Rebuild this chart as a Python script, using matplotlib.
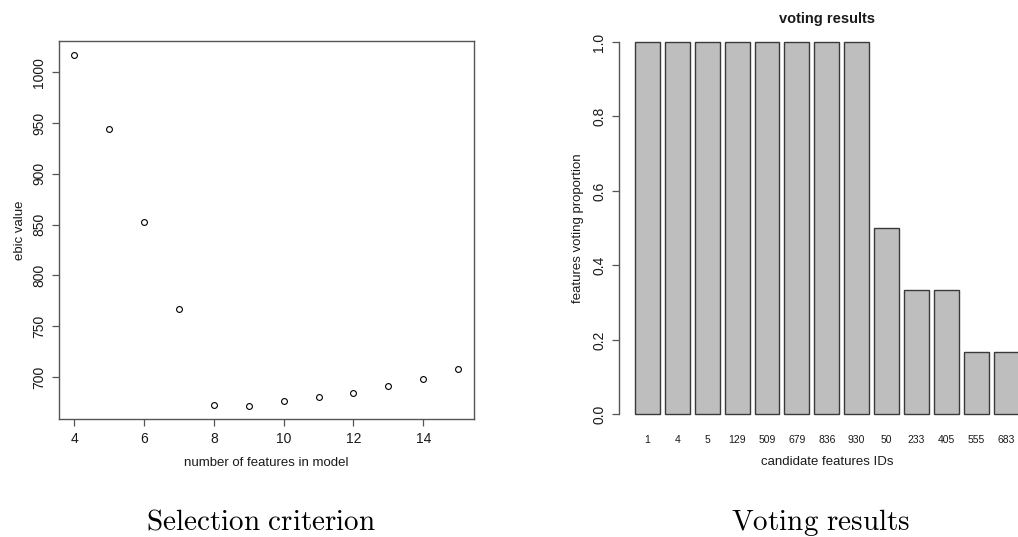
import matplotlib
matplotlib.use("Agg")
import matplotlib.pyplot as plt

plt.rcParams["font.family"] = ["Liberation Sans", "DejaVu Sans"]
plt.rcParams["mathtext.fontset"] = "cm"

# ebic value for each model size
n_features = [4, 5, 6, 7, 8, 9, 10, 11, 12, 13, 14, 15]
ebic = [1016.5, 944, 852.5, 767, 673, 672, 676.5, 680, 684.5, 691, 698.5, 707.5]

# voting proportion of the candidate features
feature_ids = ["1", "4", "5", "129", "509", "679", "836", "930", "50", "233", "405", "555", "683"]
vote_prop = [1.0, 1.0, 1.0, 1.0, 1.0, 1.0, 1.0, 1.0, 0.5, 0.333, 0.333, 0.167, 0.167]

W, H = 1018, 537
fig = plt.figure(figsize=(W / 100, H / 100), dpi=100)


def px_axes(left, top, right, bottom):
    return fig.add_axes([left / W, 1 - bottom / H, (right - left) / W, (bottom - top) / H])


line_col = "#555555"
txt_col = "#1a1a1a"

# left panel: ebic vs model size
ax1 = px_axes(59, 41, 473.5, 419.3)
ax1.plot(n_features, ebic, "o", mfc="none", mec="black", ms=4.2, mew=0.8)
ax1.set_xlim(3.56, 15.44)
ax1.set_ylim(658.5, 1030.6)
ax1.set_xticks([4, 6, 8, 10, 12, 14])
ax1.set_yticks([700, 750, 800, 850, 900, 950, 1000])
for s in ax1.spines.values():
    s.set_color(line_col)
    s.set_linewidth(1.0)
ax1.tick_params(direction="out", length=5, width=0.9, color=line_col,
                labelsize=10, labelcolor=txt_col)
ax1.tick_params(axis="x", pad=4)
ax1.tick_params(axis="y", pad=4)
for lab in ax1.get_yticklabels():
    lab.set_rotation(90)
    lab.set_va("center")
ax1.set_xlabel("number of features in model", fontsize=9.5, color=txt_col, labelpad=8)
ax1.set_ylabel("ebic value", fontsize=9.5, color=txt_col, labelpad=5)

# right panel: voting barplot
ax2 = px_axes(619, 27.1, 1035, 429.2)
pos = [0.7 + 1.2 * i for i in range(len(vote_prop))]
ax2.bar(pos, vote_prop, width=1.0, color="#bebebe", edgecolor="#3a3a3a", linewidth=1.0)
ax2.set_xlim(-0.44, 16.26)
ax2.set_ylim(-0.04, 1.04)
ax2.set_xticks(pos)
ax2.set_xticklabels(feature_ids)
ax2.set_yticks([0.0, 0.2, 0.4, 0.6, 0.8, 1.0])
ax2.set_yticklabels(["0.0", "0.2", "0.4", "0.6", "0.8", "1.0"])
for side in ["top", "right", "bottom"]:
    ax2.spines[side].set_visible(False)
ax2.spines["left"].set_bounds(0, 1)
ax2.spines["left"].set_color(line_col)
ax2.spines["left"].set_linewidth(1.0)
ax2.tick_params(axis="x", length=0, pad=4, labelsize=7.5, labelcolor=txt_col)
ax2.tick_params(axis="y", direction="out", length=5, width=0.9, color=line_col,
                pad=4, labelsize=10, labelcolor=txt_col)
for lab in ax2.get_yticklabels():
    lab.set_rotation(90)
    lab.set_va("center")
ax2.set_xlabel("candidate features IDs", fontsize=9.5, color=txt_col, labelpad=8)
ax2.set_ylabel("features voting proportion", fontsize=9.5, color=txt_col, labelpad=6)
ax2.set_title("voting results", fontsize=10.5, fontweight="bold", color=txt_col, pad=3)

# captions under each panel
fig.text(261 / W, 1 - 522 / H, r"$\mathrm{Selection\ criterion}$", fontsize=21,
         ha="center", va="center")
fig.text(821 / W, 1 - 522 / H, r"$\mathrm{Voting\ results}$", fontsize=21,
         ha="center", va="center")

fig.savefig("out.png", dpi=100)
